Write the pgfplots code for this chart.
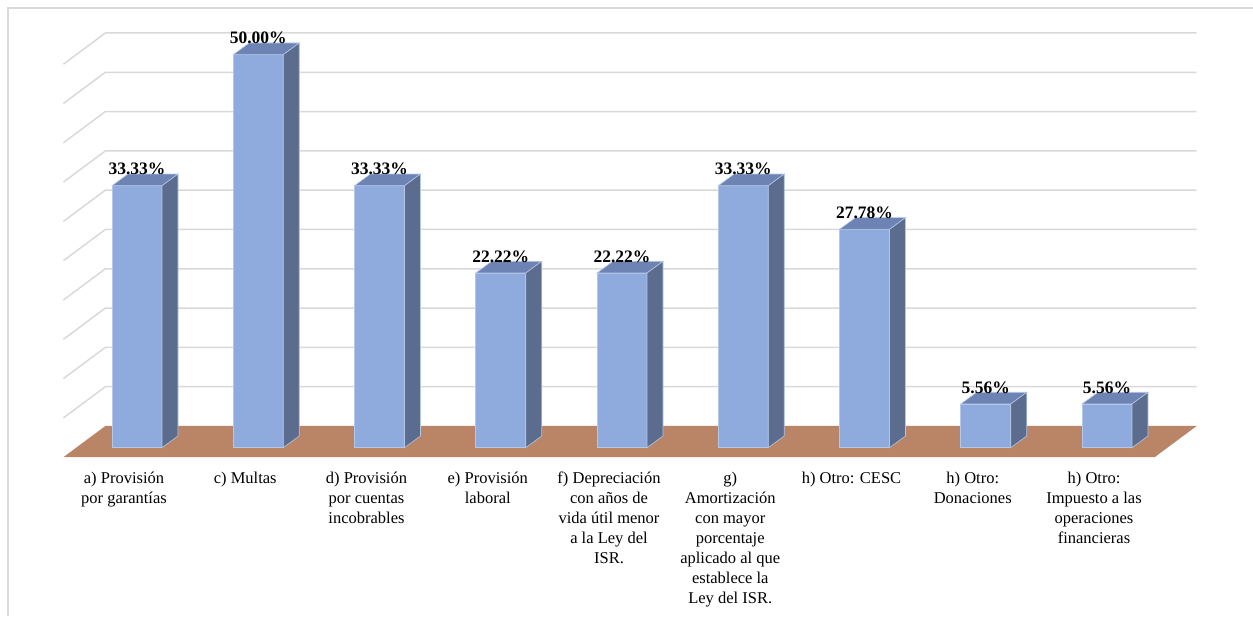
\documentclass[border=0pt]{standalone}
\usepackage{pgfplots}
\usepackage{pgfplotstable}
\pgfplotsset{compat=1.18}
\usepackage{fontspec}
\setmainfont{Liberation Serif}

\definecolor{gridc}{HTML}{D9D9D9}
\definecolor{floorc}{HTML}{B98566}
\definecolor{barfront}{HTML}{8FAADC}
\definecolor{bartop}{HTML}{6C83B3}
\definecolor{barside}{HTML}{5C6C8E}
\definecolor{baredge}{HTML}{B4C7E7}

% top and right faces of a 3D column; \barval is the column's value (7.86pt per unit)
\pgfdeclareplotmark{barfaces}{%
  \pgfmathsetlengthmacro{\barh}{\barval*7.86pt}%
  \pgfsetstrokecolor{baredge}%
  \pgfsetlinewidth{0.6pt}%
  \pgfsetfillcolor{bartop}%
  \pgfpathmoveto{\pgfpoint{-25pt}{0pt}}%
  \pgfpathlineto{\pgfpoint{25pt}{0pt}}%
  \pgfpathlineto{\pgfpoint{41pt}{11.7pt}}%
  \pgfpathlineto{\pgfpoint{-9pt}{11.7pt}}%
  \pgfpathclose
  \pgfusepath{fill,stroke}%
  \pgfsetfillcolor{barside}%
  \pgfpathmoveto{\pgfpoint{25pt}{0pt}}%
  \pgfpathlineto{\pgfpoint{41pt}{11.7pt}}%
  \pgfpathlineto{\pgfpoint{41pt}{11.7pt-\barh}}%
  \pgfpathlineto{\pgfpoint{25pt}{-\barh}}%
  \pgfpathclose
  \pgfusepath{fill,stroke}%
}

\pgfplotstableread{
idx val
0 33.33
1 50.00
2 33.33
3 22.22
4 22.22
5 33.33
6 27.78
7 5.56
8 5.56
}\bardata

\begin{document}
\begin{tikzpicture}
\useasboundingbox (0,0) rectangle (1253pt,616pt);
\draw[gridc, line width=1.5pt] (8pt,0pt) -- (8pt,608pt) -- (1253pt,608pt);
\begin{axis}[
  x=121.25pt, y=7.86pt,
  xmin=-1, xmax=9, ymin=-1.21, ymax=55,
  anchor=south west, at={(15.75pt,158.8pt)},
  clip=false,
  axis line style={draw=none},
  major tick length=0pt,
  ytick=\empty,
  xtick={0,...,8},
  xticklabels={
    {a) Provisión\\por garantías},
    {c) Multas},
    {d) Provisión\\por cuentas\\incobrables},
    {e) Provisión\\laboral},
    {f) Depreciación\\con años de\\vida útil menor\\a la Ley del\\ISR.},
    {g)\\Amortización\\con mayor\\porcentaje\\aplicado al que\\establece la\\Ley del ISR.},
    {h) Otro: CESC},
    {h) Otro:\\Donaciones},
    {h) Otro:\\Impuesto a las\\operaciones\\financieras}},
  xticklabel style={align=center, anchor=north, inner sep=0pt,
    xshift=-13pt, yshift=-14.5pt, font=\fontsize{16.5}{20}\selectfont},
]
% back wall and left wall gridlines, every 5 units
\draw[gridc, line width=1.5pt] (axis cs:-0.607,3.79) -- (axis cs:-0.261,7.76) -- (axis cs:8.739,7.76);
\draw[gridc, line width=1.5pt] (axis cs:-0.607,8.79) -- (axis cs:-0.261,12.76) -- (axis cs:8.739,12.76);
\draw[gridc, line width=1.5pt] (axis cs:-0.607,13.79) -- (axis cs:-0.261,17.76) -- (axis cs:8.739,17.76);
\draw[gridc, line width=1.5pt] (axis cs:-0.607,18.79) -- (axis cs:-0.261,22.76) -- (axis cs:8.739,22.76);
\draw[gridc, line width=1.5pt] (axis cs:-0.607,23.79) -- (axis cs:-0.261,27.76) -- (axis cs:8.739,27.76);
\draw[gridc, line width=1.5pt] (axis cs:-0.607,28.79) -- (axis cs:-0.261,32.76) -- (axis cs:8.739,32.76);
\draw[gridc, line width=1.5pt] (axis cs:-0.607,33.79) -- (axis cs:-0.261,37.76) -- (axis cs:8.739,37.76);
\draw[gridc, line width=1.5pt] (axis cs:-0.607,38.79) -- (axis cs:-0.261,42.76) -- (axis cs:8.739,42.76);
\draw[gridc, line width=1.5pt] (axis cs:-0.607,43.79) -- (axis cs:-0.261,47.76) -- (axis cs:8.739,47.76);
\draw[gridc, line width=1.5pt] (axis cs:-0.607,48.79) -- (axis cs:-0.261,52.76) -- (axis cs:8.739,52.76);
% floor
\fill[floorc] (axis cs:-0.607,-1.21) -- (axis cs:8.393,-1.21) -- (axis cs:8.739,2.76) -- (axis cs:-0.261,2.76) -- cycle;
% front faces of the columns
\addplot[ybar, bar width=50pt, fill=barfront, draw=baredge, line width=0.6pt]
  table[x=idx, y=val] {\bardata};
% top and side faces, with the value labels
\addplot[scatter, only marks, mark=barfaces, line width=0.6pt,
  scatter/use mapped color={draw=baredge},
  visualization depends on={rawy \as \barval},
  nodes near coords={\pgfmathprintnumber[fixed, fixed zerofill, precision=2, assume math mode=true]{\pgfplotspointmeta}\%},
  every node near coord/.append style={anchor=base, inner sep=0pt, yshift=10.8pt,
    font=\fontsize{17.5}{20}\selectfont\bfseries, text=black}]
  table[x=idx, y=val] {\bardata};
\end{axis}
\end{tikzpicture}
\end{document}
